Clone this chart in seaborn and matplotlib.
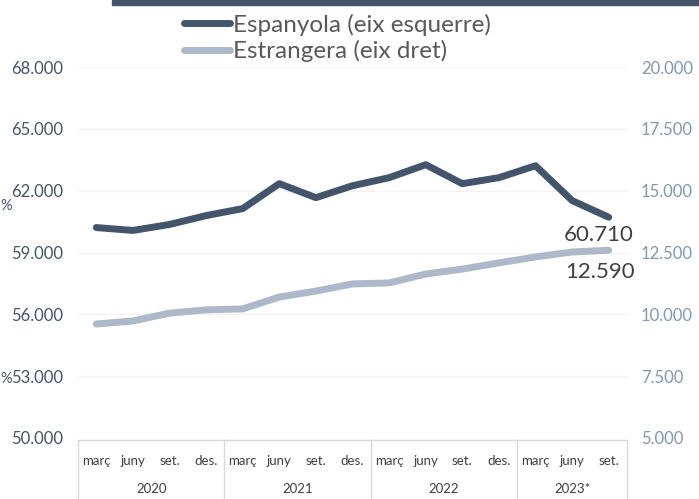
import matplotlib
matplotlib.use("Agg")
import matplotlib.pyplot as plt
import seaborn as sns
import pandas as pd
from matplotlib.patches import Rectangle
from matplotlib.lines import Line2D

# Dades (llegides del gràfic)
mesos = ["març", "juny", "set.", "des.",
         "març", "juny", "set.", "des.",
         "març", "juny", "set.", "des.",
         "març", "juny", "set."]
anys = ["2020", "2021", "2022", "2023*"]
espanyola = [60210, 60070, 60360, 60790, 61130, 62340, 61660, 62240,
             62630, 63260, 62340, 62630, 63210, 61520, 60710]
estrangera = [9610, 9730, 10050, 10180, 10220, 10700, 10940, 11230,
              11270, 11630, 11830, 12080, 12320, 12520, 12590]

df = pd.DataFrame({"x": range(len(mesos)), "esp": espanyola, "est": estrangera})

c_esp = "#44546A"
c_est = "#ADB9CA"

sns.set_theme(style="white")
plt.rcParams["font.family"] = ["Lato", "DejaVu Sans"]

fig = plt.figure(figsize=(6.99, 4.99), dpi=100)
ax = fig.add_axes([78 / 699, 1 - 438 / 499, 549 / 699, 371 / 499])
ax2 = ax.twinx()

sns.lineplot(data=df, x="x", y="esp", ax=ax, color=c_esp, linewidth=5,
             solid_capstyle="round", zorder=3)
sns.lineplot(data=df, x="x", y="est", ax=ax2, color=c_est, linewidth=5,
             solid_capstyle="round", zorder=3)

ax.set_xlim(-0.5, len(mesos) - 0.5)
ax.set_ylim(50000, 68000)
ax2.set_ylim(5000, 20000)
ax.set_yticks(range(50000, 68001, 3000))
ax2.set_yticks(range(5000, 20001, 2500))
fmt = lambda v: f"{v:,.0f}".replace(",", ".")
ax.set_yticklabels([fmt(v) for v in ax.get_yticks()], color="#44546A", fontsize=12)
ax2.set_yticklabels([fmt(v) for v in ax2.get_yticks()], color="#8497B0", fontsize=12)
ax.tick_params(axis="y", length=0, pad=11)
ax2.tick_params(axis="y", length=0, pad=10)
ax.set_xticks([])
ax.set_xlabel("")
ax.set_ylabel("")
ax2.set_ylabel("")
for a in (ax, ax2):
    for s in a.spines.values():
        s.set_visible(False)
ax.grid(axis="y", color="#F2F2F2", linewidth=1)
ax.set_axisbelow(True)

# eix de categories en forma de taula
trans = ax.get_xaxis_transform()
box_c = "#D9D9D9"
ax.add_line(Line2D([-0.5, len(mesos) - 0.5], [-0.005, -0.005], transform=trans,
                   color=box_c, linewidth=1, clip_on=False))
for b in [-0.5, 3.5, 7.5, 11.5, len(mesos) - 0.5]:
    ax.add_line(Line2D([b, b], [-0.005, -0.17], transform=trans,
                       color=box_c, linewidth=1, clip_on=False))
for i, m in enumerate(mesos):
    ax.text(i, -0.063, m, transform=trans, ha="center", va="center",
            fontsize=9.5, color="#404040")
for j, a in enumerate(anys):
    inici = j * 4
    fi = min(inici + 3, len(mesos) - 1)
    ax.text((inici + fi) / 2, -0.138, a, transform=trans, ha="center",
            va="center", fontsize=9.5, color="#404040")

# etiquetes de l'últim valor
ax.annotate(fmt(espanyola[-1]), (len(mesos) - 1, espanyola[-1]),
            xytext=(-7, -13), textcoords="offset points", ha="center",
            va="center", fontsize=16, color="#404040")
ax2.annotate(fmt(estrangera[-1]), (len(mesos) - 1, estrangera[-1]),
             xytext=(-6, -16), textcoords="offset points", ha="center",
             va="center", fontsize=16, color="#404040")

# barra superior i restes de "%"
fig.add_artist(Rectangle((112 / 699, 1 - 5 / 499), 1, 5 / 499,
                         transform=fig.transFigure, color=c_esp, clip_on=False))
fig.text(0.0, 1 - 206 / 499, "%", fontsize=10.5, color="#44546A", va="center", ha="left")
fig.text(0.0, 1 - 379 / 499, "%", fontsize=10.5, color="#44546A", va="center", ha="left")

handles = [Line2D([], [], color=c_esp, linewidth=5, solid_capstyle="round"),
           Line2D([], [], color=c_est, linewidth=5, solid_capstyle="round")]
fig.legend(handles, ["Espanyola (eix esquerre)", "Estrangera (eix dret)"],
           loc="upper left", bbox_to_anchor=(174 / 699, 1 - 4 / 499),
           frameon=False, fontsize=17.5, handlelength=1.9, handletextpad=0.12,
           labelspacing=0.18, labelcolor="#595959", borderaxespad=0)

fig.savefig("out.png", dpi=100)
